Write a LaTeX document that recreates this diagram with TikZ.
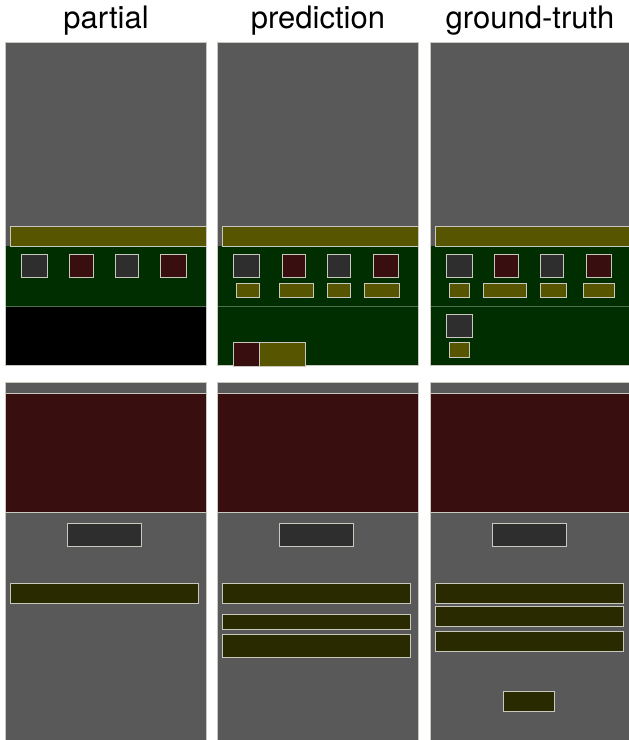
\documentclass[tikz,border=0pt]{standalone}
\usepackage{fontspec}
\setmainfont{TeX Gyre Heros}
\definecolor{pgray}{RGB}{89,89,89}
\definecolor{olivey}{RGB}{87,85,0}
\definecolor{dgreen}{RGB}{0,46,0}
\definecolor{dred}{RGB}{56,14,14}
\definecolor{dsq}{RGB}{46,46,46}
\definecolor{dolive}{RGB}{42,42,0}
\definecolor{edge}{RGB}{200,200,190}
\definecolor{sepl}{RGB}{80,110,80}
\tikzset{
  bx/.style={draw=edge,line width=0.8pt},
  title/.style={anchor=base,font=\fontsize{31}{31}\selectfont},
}
\begin{document}
\begin{tikzpicture}[x=1pt,y=-1pt]
\useasboundingbox (0,0) rectangle (629,740);
\fill[white] (0,0) rectangle (629,740);
% titles
\node[title] (t1) at (106,28.5) {partial};
\node[title] (t2) at (318,28.5) {prediction};
\node[title] (t3) at (530,28.5) {ground-truth};
% ---------- top row ----------
% column 1
\fill[pgray] (5.5,42) rectangle (206.5,246);
\fill[dgreen] (5.5,246) rectangle (206.5,306);
\fill[black] (5.5,306) rectangle (206.5,365);
\draw[sepl,line width=0.8pt] (5.5,306) -- (206.5,306);
\draw[edge,line width=0.6pt] (5.5,42) rectangle (206.5,365);
\draw[bx,fill=olivey] (10.5,226.5) rectangle (206.5,246);
\draw[bx,fill=dsq] (21.3,254.7) rectangle (47.7,277.3);
\draw[bx,fill=dred] (69.7,254.7) rectangle (93,277.3);
\draw[bx,fill=dsq] (115.3,254.7) rectangle (138.7,277.3);
\draw[bx,fill=dred] (160.7,254.7) rectangle (186.7,277.3);
% column 2
\fill[pgray] (217.5,42) rectangle (418.5,246);
\fill[dgreen] (217.5,246) rectangle (418.5,365);
\draw[sepl,line width=0.8pt] (217.5,306) -- (418.5,306);
\draw[edge,line width=0.6pt] (217.5,42) rectangle (418.5,365);
\draw[bx,fill=olivey] (222.3,226.5) rectangle (418.5,246);
\draw[bx,fill=dsq] (233.3,254.7) rectangle (259.7,277.3);
\draw[bx,fill=dred] (282,254.7) rectangle (305,277.3);
\draw[bx,fill=dsq] (327.3,254.7) rectangle (350.3,277.3);
\draw[bx,fill=dred] (373,254.7) rectangle (398.7,277.3);
\draw[bx,fill=olivey] (236.3,283) rectangle (259.7,297.7);
\draw[bx,fill=olivey] (279,283) rectangle (313.7,297.7);
\draw[bx,fill=olivey] (327.3,283) rectangle (350.7,297.7);
\draw[bx,fill=olivey] (364.3,283) rectangle (399,297.7);
\draw[bx,fill=dred] (233.3,342.7) rectangle (259.3,366);
\draw[bx,fill=olivey] (259.3,342.7) rectangle (305,366);
% column 3
\fill[pgray] (430.5,42) rectangle (630,246);
\fill[dgreen] (430.5,246) rectangle (630,365);
\draw[sepl,line width=0.8pt] (430.5,306) -- (630,306);
\draw[edge,line width=0.6pt] (630,42) -- (430.5,42) -- (430.5,365) -- (630,365);
\draw[bx,fill=olivey] (435.3,226.5) rectangle (630,246);
\draw[bx,fill=dsq] (446.3,254.7) rectangle (472.7,277.3);
\draw[bx,fill=dred] (494.7,254.7) rectangle (518,277.3);
\draw[bx,fill=dsq] (540.3,254.7) rectangle (563.7,277.3);
\draw[bx,fill=dred] (586,254.7) rectangle (611.7,277.3);
\draw[bx,fill=olivey] (449.3,283) rectangle (469.7,297.7);
\draw[bx,fill=olivey] (483.7,283) rectangle (526.7,297.7);
\draw[bx,fill=olivey] (540.3,283) rectangle (566.3,297.7);
\draw[bx,fill=olivey] (583.3,283) rectangle (614.7,297.7);
\draw[bx,fill=dsq] (446.3,314.3) rectangle (472.7,337.3);
\draw[bx,fill=olivey] (449.3,342.7) rectangle (469.7,357.3);
% ---------- bottom row ----------
% column 1
\fill[pgray] (5.5,382.5) rectangle (206.5,741);
\draw[edge,line width=0.6pt] (5.5,741) -- (5.5,382.5) -- (206.5,382.5) -- (206.5,741);
\draw[bx,fill=dred] (5.5,393) rectangle (206.5,512);
\draw[bx,fill=dsq] (67.3,523.3) rectangle (141.3,546);
\draw[bx,fill=dolive] (10.5,583.3) rectangle (198,603.3);
% column 2
\fill[pgray] (217.5,382.5) rectangle (418.5,741);
\draw[edge,line width=0.6pt] (217.5,741) -- (217.5,382.5) -- (418.5,382.5) -- (418.5,741);
\draw[bx,fill=dred] (217.5,393) rectangle (418.5,512);
\draw[bx,fill=dsq] (279.3,523.3) rectangle (353.3,546);
\draw[bx,fill=dolive] (222.3,583.3) rectangle (410.3,603.3);
\draw[bx,fill=dolive] (222.3,614) rectangle (410.3,629);
\draw[bx,fill=dolive] (222.3,634) rectangle (410.3,657.7);
% column 3
\fill[pgray] (430.5,382.5) rectangle (630,741);
\draw[edge,line width=0.6pt] (430.5,741) -- (430.5,382.5) -- (630,382.5);
\draw[bx,fill=dred] (430.5,393) rectangle (630,512);
\draw[bx,fill=dsq] (492.3,523.3) rectangle (566.3,546);
\draw[bx,fill=dolive] (435.3,583.3) rectangle (623.3,603.3);
\draw[bx,fill=dolive] (435.3,606) rectangle (623.3,626);
\draw[bx,fill=dolive] (435.3,631.3) rectangle (623.3,651.7);
\draw[bx,fill=dolive] (503.3,691.3) rectangle (554.7,711.7);
\end{tikzpicture}
\end{document}
